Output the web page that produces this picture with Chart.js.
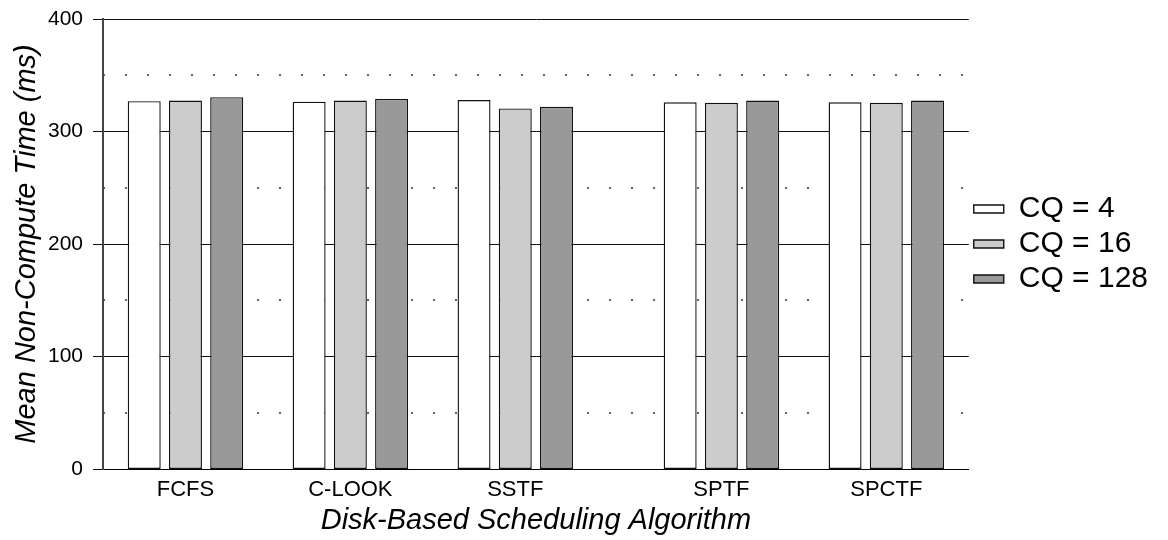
<!DOCTYPE html>
<html>
<head>
<meta charset="utf-8">
<title>Mean Non-Compute Time</title>
<script src="https://cdn.jsdelivr.net/npm/chart.js@4/dist/chart.umd.min.js"></script>
<style>
  html, body { margin: 0; padding: 0; background: #fff; }
  #wrap { width: 1168px; height: 540px; position: relative; }
</style>
</head>
<body>
<div id="wrap"><canvas id="chart"></canvas></div>
<script>
// ── Data ──
const categories = ['FCFS', 'C-LOOK', 'SSTF', 'SPTF', 'SPCTF'];
const seriesNames = ['CQ = 4', 'CQ = 16', 'CQ = 128'];
const cq4   = [327.0, 326.5, 328.0, 326.0, 326.0];
const cq16  = [327.5, 327.5, 320.5, 325.5, 325.5];
const cq128 = [330.5, 329.0, 322.0, 327.5, 327.5];
const yTicks = [0, 100, 200, 300, 400];
const yMinorTicks = [50, 150, 250, 350];

// ── Layout ──
// empty slots left after each group of three bars
const gapAfter = [1, 1, 2, 1, 0];
const fills = ['#ffffff', '#cccccc', '#999999'];
const FONT = '"Liberation Sans", Arial, Helvetica, sans-serif';

// one category slot per bar, blank slots as spacers
const slotLabels = [''];
const groupStart = [];
categories.forEach((name, g) => {
  groupStart.push(slotLabels.length);
  slotLabels.push('', name, '');
  for (let k = 0; k < gapAfter[g]; k++) slotLabels.push('');
});
slotLabels.push('');

function spread(values, offset) {
  const out = slotLabels.map(() => null);
  values.forEach((v, g) => { out[groupStart[g] + offset] = v; });
  return out;
}

const series = [cq4, cq16, cq128];
const datasets = series.map((values, i) => ({
  label: seriesNames[i],
  data: spread(values, i),
  backgroundColor: fills[i],
  borderColor: '#111',
  borderWidth: 1.4,
  borderSkipped: false,
  grouped: false,
  barPercentage: 0.8,
  categoryPercentage: 1.0,
}));

new Chart(document.getElementById('chart'), {
  type: 'bar',
  data: { labels: slotLabels, datasets },
  options: {
    responsive: true,
    maintainAspectRatio: false,
    animation: false,
    layout: { padding: { top: 19, left: 12, right: 10, bottom: 2 } },
    plugins: {
      tooltip: { enabled: false },
      legend: {
        position: 'right',
        align: 'center',
        fullSize: false,   // centre the key on the plot, not the canvas
        labels: {
          color: '#000',
          boxWidth: 30,
          boxHeight: 8,
          padding: 5,
          font: { size: 30, family: FONT, lineHeight: 1.0 }
        }
      }
    },
    scales: {
      x: {
        offset: false,
        afterFit: s => { s.height = 69; },
        grid: { display: false, drawTicks: false },
        border: { color: '#000', width: 1 },
        ticks: {
          autoSkip: false,
          maxRotation: 0,
          color: '#000',
          padding: 8,
          font: { size: 22, family: FONT }
        },
        title: {
          display: true,
          text: 'Disk-Based Scheduling Algorithm',
          color: '#000',
          padding: { top: 1, bottom: 0 },
          font: { size: 29, style: 'italic', family: FONT }
        }
      },
      // dotted half-way lines, no space of their own
      y2: {
        position: 'left',
        min: 0,
        max: 400,
        afterBuildTicks: s => { s.ticks = yMinorTicks.map(v => ({ value: v })); },
        afterFit: s => { s.width = 0; },
        grid: { color: '#666', lineWidth: 2, drawTicks: false },
        border: { display: false, dash: [2, 20] },
        ticks: { display: false }
      },
      y: {
        position: 'left',
        min: 0,
        max: 400,
        afterBuildTicks: s => { s.ticks = yTicks.map(v => ({ value: v })); },
        afterFit: s => { s.width = 91; },
        grid: { color: '#111', lineWidth: 1, tickLength: 10, tickColor: '#111' },
        border: { color: '#444', width: 2 },
        ticks: {
          color: '#000',
          padding: 10,
          font: { size: 21, family: FONT, lineHeight: 0.8 }
        },
        title: {
          display: true,
          text: 'Mean Non-Compute Time (ms)',
          color: '#000',
          padding: { top: 0, bottom: 7 },
          font: { size: 29, style: 'italic', family: FONT, lineHeight: 1.0 }
        }
      }
    }
  }
});
</script>
</body>
</html>
